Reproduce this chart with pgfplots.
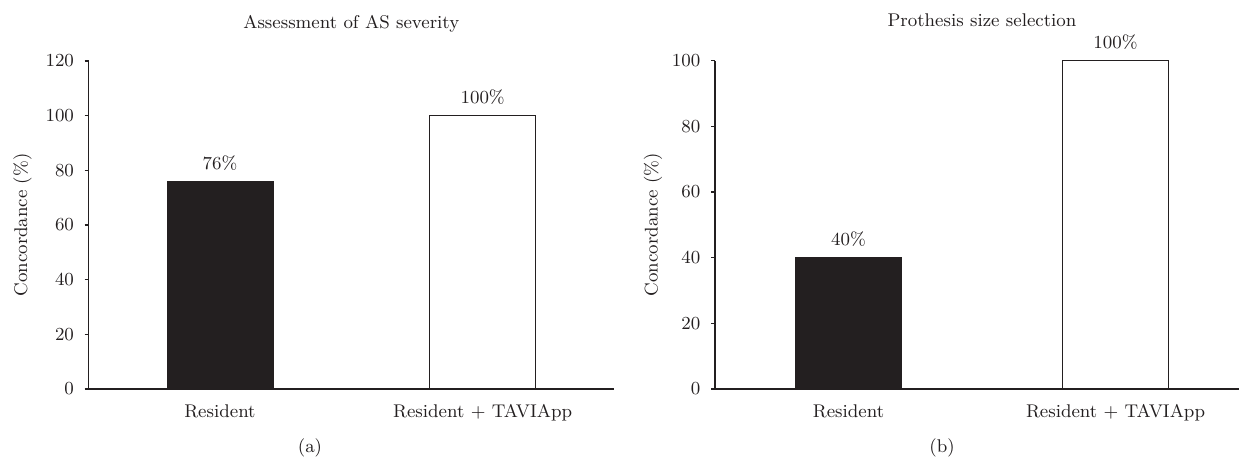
\documentclass[border=0pt]{standalone}
\usepackage{pgfplots}
\pgfplotsset{compat=1.18}
\definecolor{ink}{HTML}{231F20}
\pgfplotsset{
  panel/.style={
    scale only axis, enlargelimits=false, clip=false,
    font=\fontsize{9.2}{11}\selectfont,
    axis x line*=bottom, axis y line*=left,
    axis line style={ink, line width=0.7pt},
    xmin=-0.5, ymin=0,
    xtick={0,1}, xticklabels={Resident, Resident + TAVIApp},
    xtick style={draw=none},
    ytick style={ink, line width=0.6pt},
    tick align=outside, major tick length=2pt,
    yticklabel style={xshift=-1.8pt},
    xticklabel style={yshift=-2.3pt},
    /pgf/number format/assume math mode=true,
    ylabel={Concordance (\%)},
    every axis title/.style={at={(0.5,1)}, anchor=base},
    bar width=53pt,
    nodes near coords={\pgfmathprintnumber{\pgfplotspointmeta}\%},
    every node near coord/.append style={yshift=2pt, text=ink},
    every tick label/.append style={text=ink},
    label style={text=ink}, title style={text=ink},
  },
}
\begin{document}
\begin{tikzpicture}
\useasboundingbox (0,0) rectangle (619.5pt,228.5pt);

% (a) Assessment of AS severity
\begin{axis}[panel, at={(44.3pt,34pt)}, anchor=south west,
  width=262.7pt, height=164pt, xmax=1.5, ymax=120,
  ytick={0,20,...,120},
  title={Assessment of AS severity}, title style={yshift=16.5pt},
  every axis y label/.style={at={(axis description cs:-0.1256,0.5)}, rotate=90, anchor=center, text=ink}]
  \addplot[ybar, bar shift=0pt, fill=ink, draw=ink] coordinates {(0,76)};
  \addplot[ybar, bar shift=0pt, fill=white, draw=ink, line width=0.6pt] coordinates {(1,100)};
\end{axis}

% (b) Prothesis size selection
\begin{axis}[panel, at={(357.5pt,34pt)}, anchor=south west,
  width=267pt, height=164.25pt, xmax=1.5, ymax=100,
  ytick={0,20,...,100},
  title={Prothesis size selection}, title style={yshift=17pt},
  every axis y label/.style={at={(axis description cs:-0.116,0.5)}, rotate=90, anchor=center, text=ink}]
  \addplot[ybar, bar shift=0pt, fill=ink, draw=ink] coordinates {(0,40)};
  \addplot[ybar, bar shift=0pt, fill=white, draw=ink, line width=0.6pt] coordinates {(1,100)};
\end{axis}

\node[font=\fontsize{9.2}{11}\selectfont, text=ink] at (155pt,4.5pt) {(a)};
\node[font=\fontsize{9.2}{11}\selectfont, text=ink] at (471pt,4.5pt) {(b)};
\end{tikzpicture}
\end{document}
